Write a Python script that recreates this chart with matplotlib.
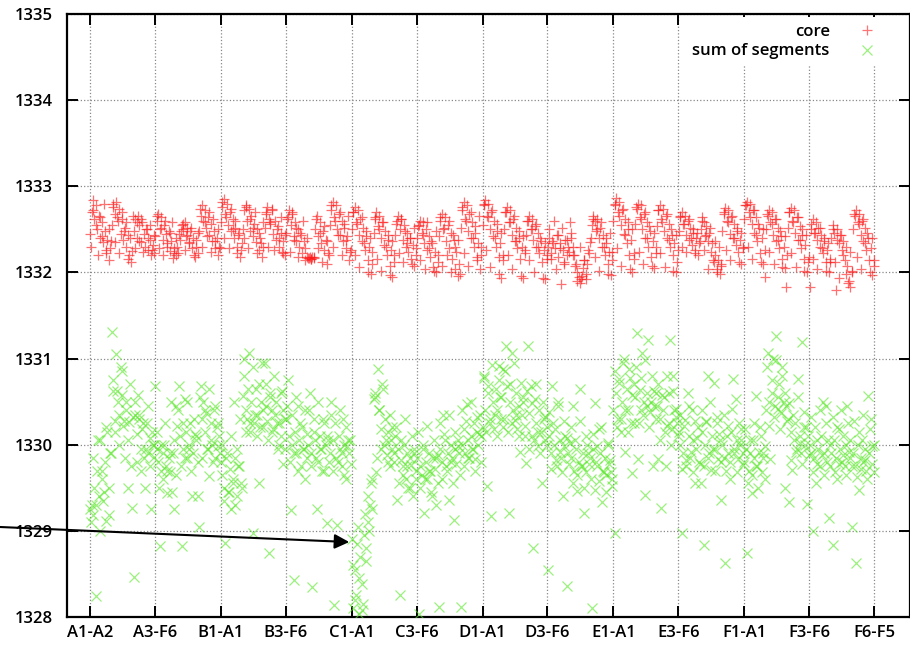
import numpy as np
import matplotlib
matplotlib.use('Agg')
import matplotlib.pyplot as plt
from matplotlib.lines import Line2D

plt.rcParams['font.family'] = ['Open Sans', 'DejaVu Sans']
plt.rcParams['font.weight'] = 600

# x tick labels (pair index where each label sits)
tick_labels = ['A1-A2', 'A3-F6', 'B1-A1', 'B3-F6', 'C1-A1', 'C3-F6', 'D1-A1',
               'D3-F6', 'E1-A1', 'E3-F6', 'F1-A1', 'F3-F6', 'F6-F5']
tick_index = [0, 104, 210, 314, 420, 524, 630, 734, 840, 944, 1050, 1154, 1259]

# core: hundredths above 1332, 15 samples per source node
core_base = 1332
core_by_node = [
    [45, 70, 84, 62, 78, 50, 66, 40, 58, 35, 48, 22, 38, 15, 28],
    [55, 80, 68, 82, 60, 74, 45, 62, 38, 52, 30, 44, 20, 12, 25],
    [48, 62, 40, 65, 55, 35, 58, 45, 30, 50, 26, 38, 20, 32, 22],
    [42, 60, 68, 50, 64, 38, 55, 45, 30, 48, 25, 36, 17, 28, 20],
    [30, 45, 38, 55, 50, 58, 42, 52, 35, 48, 28, 40, 18, 30, 22],
    [48, 66, 78, 60, 72, 52, 64, 44, 56, 36, 48, 28, 40, 20, 30],
    [58, 76, 85, 68, 80, 55, 70, 48, 62, 40, 52, 30, 44, 18, 26],
    [50, 72, 78, 60, 74, 48, 66, 42, 56, 35, 50, 26, 40, 18, 30],
    [52, 70, 76, 62, 58, 72, 45, 60, 38, 54, 30, 46, 24, 36, 20],
    [46, 64, 72, 55, 68, 42, 58, 36, 50, 30, 44, 22, 36, 15, 18],
    [17, 18, 16, 18, 17, 50, 65, 42, 58, 34, 48, 26, 38, 10, 22],
    [55, 72, 82, 64, 78, 50, 68, 44, 60, 36, 52, 28, 42, 15, 24],
    [50, 70, 76, 58, 72, 44, 62, 36, 52, 26, 42, 14, 30, -2, 10],
    [46, 64, 70, 54, 66, 40, 58, 32, 48, 20, 38, 8, 26, -5, 12],
    [44, 60, 65, 50, 62, 38, 55, 30, 46, 24, 40, 16, 32, 8, 20],
    [40, 55, 60, 46, 58, 34, 50, 26, 42, 18, 34, 6, 24, 0, 12],
    [42, 60, 68, 50, 64, 36, 55, 28, 46, 16, 38, 4, 24, -4, 10],
    [52, 72, 82, 62, 78, 48, 68, 40, 58, 30, 46, 18, 34, 4, 20],
    [55, 78, 84, 66, 80, 50, 70, 42, 60, 30, 48, 18, 34, -6, 14],
    [50, 70, 76, 58, 72, 44, 62, 36, 52, 28, 40, 16, 30, -6, 22],
    [44, 60, 66, 50, 62, 38, 54, 30, 46, 22, 36, 12, 26, -8, 16],
    [30, 40, 22, 36, 60, 28, 44, 18, 34, -13, 26, 12, 38, 20, 30],
    [58, 40, 30, 20, 10, 0, -5, -12, -8, 5, 15, -2, 10, 22, 35],
    [55, 66, 60, 48, 62, 40, 52, 30, 44, 20, 34, 10, 24, -3, 14],
    [60, 78, 86, 70, 82, 55, 72, 45, 62, 34, 50, 20, 38, 0, 16],
    [56, 74, 80, 64, 78, 50, 68, 40, 58, 30, 48, 18, 36, 5, 22],
    [54, 72, 78, 62, 74, 48, 66, 40, 56, 30, 44, 20, 34, 0, 12],
    [48, 64, 70, 56, 66, 44, 60, 38, 52, 32, 46, 26, 40, 20, 34],
    [50, 64, 58, 42, 54, 36, 46, 24, 34, 12, 20, 4, 14, -2, 8],
    [48, 68, 75, 60, 72, 45, 64, 40, 56, 32, 48, 24, 38, 10, 28],
    [62, 78, 82, 70, 80, 56, 72, 46, 64, 36, 52, 22, 40, 10, -5],
    [50, 66, 72, 58, 70, 44, 62, 36, 52, 28, 42, 16, 30, 5, -17],
    [52, 70, 75, 60, 72, 46, 64, 38, 54, 28, 44, 16, 32, 0, 12],
    [-17, 50, 62, 46, 58, 38, 52, 30, 44, 22, 36, 12, 26, 0, 16],
    [40, 55, 46, -20, 50, 34, 44, 26, 36, 14, -2, 8, -10, -17, 2],
    [50, 66, 72, 58, 68, 44, 60, 36, 52, 26, 40, 14, 28, -3, 8],
]
# second reading of the same band, 10 samples per node in between
core_fill_by_node = [
    [30, 72, 55, 20, 64, 42, 80, 26, 50, 36],
    [76, 35, 64, 22, 70, 48, 58, 16, 40, 66],
    [28, 58, 36, 62, 24, 50, 40, 55, 26, 44],
    [66, 28, 52, 20, 60, 34, 46, 58, 22, 40],
    [22, 48, 56, 26, 44, 34, 52, 20, 38, 46],
    [74, 30, 58, 42, 70, 24, 62, 36, 50, 28],
    [82, 40, 64, 28, 74, 50, 60, 22, 46, 34],
    [40, 76, 28, 62, 52, 70, 22, 46, 34, 58],
    [68, 30, 56, 74, 26, 50, 40, 64, 22, 44],
    [62, 24, 70, 38, 52, 18, 46, 60, 28, 40],
    [17, 16, 18, 62, 28, 46, 12, 54, 36, 20],
    [78, 30, 60, 44, 70, 20, 56, 38, 66, 26],
    [70, 20, 56, 6, 64, 34, 48, 0, 40, 24],
    [62, 16, 50, 2, 58, 30, 44, -3, 36, 20],
    [56, 22, 62, 12, 48, 34, 40, 10, 52, 28],
    [54, 14, 44, 4, 58, 28, 36, 2, 48, 20],
    [64, 8, 52, 20, 60, 0, 44, 30, 38, -2],
    [76, 22, 60, 8, 70, 40, 54, 14, 66, 30],
    [80, 26, 64, 6, 72, 40, 56, -2, 46, 20],
    [70, 20, 58, 4, 66, 36, 48, -4, 42, 26],
    [60, 14, 50, 0, 56, 30, 40, -6, 34, 20],
    [50, 16, 34, 4, 44, 28, 52, 10, 38, 24],
    [46, 20, 8, -10, 30, -4, 14, -8, 26, 40],
    [62, 18, 50, 2, 58, 30, 40, -2, 46, 24],
    [80, 28, 66, 8, 74, 44, 58, 4, 50, 22],
    [76, 24, 62, 10, 70, 40, 54, 8, 46, 30],
    [72, 22, 58, 6, 68, 38, 50, 2, 44, 26],
    [66, 30, 56, 24, 62, 40, 50, 22, 46, 36],
    [60, 26, 44, 4, 52, 14, 36, 0, 30, 10],
    [70, 26, 58, 14, 66, 40, 52, 12, 46, 30],
    [78, 30, 64, 16, 72, 44, 56, 12, 50, 26],
    [68, 24, 56, 10, 62, 38, 48, 6, 42, 20],
    [70, 22, 58, 6, 64, 38, 50, 2, 44, 18],
    [56, 16, 46, 4, 52, 28, 40, 2, 34, 12],
    [50, 12, 38, -6, 44, 20, 30, -12, 24, 0],
    [68, 18, 56, 4, 62, 34, 46, 0, 40, 14],
]

# sum of segments: hundredths above 1328, same sampling
seg_base = 1328
seg_by_node = [
    [125, 130, 118, 150, 24, 170, 140, 205, 160, 135, 180, 112, 215, 150, 190],
    [331, 262, 228, 305, 250, 235, 290, 258, 222, 185, 240, 150, 226, 175, 127],
    [47, 235, 212, 258, 230, 195, 218, 185, 150, 225, 190, 208, 125, 200, 186],
    [268, 195, 180, 82, 170, 190, 200, 175, 144, 185, 168, 250, 190, 125, 245],
    [222, 268, 210, 82, 195, 253, 215, 185, 200, 225, 140, 190, 212, 205, 140],
    [105, 268, 230, 250, 215, 237, 195, 164, 225, 200, 240, 185, 220, 198, 210],
    [180, 165, 150, 86, 190, 145, 172, 125, 160, 250, 185, 140, 175, 230, 155],
    [256, 300, 240, 230, 307, 215, 250, 98, 225, 265, 235, 156, 220, 295, 240],
    [295, 245, 228, 74, 260, 240, 218, 235, 250, 195, 225, 210, 262, 178, 230],
    [230, 275, 210, 124, 200, 43, 215, 190, 245, 205, 175, 220, 195, 160, 212],
    [200, 260, 190, 35, 215, 205, 125, 180, 210, 195, 230, 170, 200, 109, 205],
    [190, 250, 205, 14, 185, 107, 210, 195, 175, 230, 200, 160, 198, 190, 205],
    [90, 10, 55, 25, 105, 3, 70, 38, 15, 120, 80, 140, 100, 155, 125],
    [253, 260, 168, 288, 240, 218, 270, 200, 230, 188, 215, 175, 205, 195, 180],
    [210, 136, 195, 26, 182, 175, 200, 160, 190, 150, 185, 176, 140, 195, 170],
    [185, 3, 175, 165, 195, 121, 180, 160, 190, 170, 140, 185, 172, 130, 188],
    [12, 195, 180, 235, 205, 175, 190, 136, 200, 185, 113, 195, 178, 205, 190],
    [12, 200, 218, 190, 247, 205, 185, 210, 195, 225, 183, 215, 200, 235, 210],
    [220, 278, 240, 152, 260, 230, 117, 250, 218, 265, 240, 291, 255, 230, 288],
    [230, 315, 268, 121, 250, 307, 240, 229, 260, 218, 245, 191, 235, 255, 210],
    [179, 315, 237, 268, 210, 80, 253, 225, 198, 240, 215, 156, 230, 205, 220],
    [55, 210, 190, 268, 200, 218, 175, 250, 205, 185, 140, 198, 210, 36, 190],
    [202, 185, 245, 170, 195, 146, 180, 265, 175, 190, 121, 168, 200, 178, 185],
    [10, 195, 249, 180, 175, 218, 190, 134, 170, 185, 165, 200, 178, 168, 160],
    [240, 98, 260, 230, 276, 215, 250, 299, 191, 265, 240, 288, 225, 167, 270],
    [255, 330, 183, 264, 240, 307, 250, 142, 260, 322, 238, 250, 175, 245, 260],
    [245, 183, 230, 127, 240, 255, 175, 222, 260, 322, 218, 280, 240, 232, 225],
    [215, 200, 98, 190, 229, 175, 260, 210, 185, 240, 205, 156, 195, 220, 180],
    [156, 215, 84, 200, 226, 280, 190, 171, 210, 272, 195, 225, 183, 205, 136],
    [200, 185, 63, 210, 190, 160, 215, 276, 195, 253, 205, 183, 200, 218, 190],
    [180, 195, 74, 170, 190, 144, 205, 185, 257, 175, 192, 220, 168, 185, 198],
    [240, 307, 250, 183, 260, 299, 245, 326, 255, 270, 237, 290, 250, 150, 245],
    [230, 134, 215, 171, 205, 225, 195, 276, 210, 190, 319, 220, 200, 131, 210],
    [200, 190, 100, 185, 156, 205, 195, 175, 210, 250, 190, 245, 180, 115, 200],
    [190, 84, 205, 185, 160, 218, 195, 180, 210, 175, 200, 245, 192, 185, 104],
    [190, 175, 63, 200, 148, 185, 205, 180, 195, 170, 257, 190, 230, 178, 200],
]
seg_fill_by_node = [
    [110, 185, 130, 205, 100, 170, 145, 220, 118, 190],
    [275, 215, 262, 200, 285, 228, 250, 205, 270, 232],
    [250, 180, 235, 170, 225, 195, 245, 175, 215, 200],
    [215, 150, 200, 160, 225, 170, 190, 145, 205, 165],
    [240, 175, 225, 185, 250, 195, 170, 230, 210, 180],
    [255, 185, 240, 195, 265, 205, 180, 245, 225, 190],
    [200, 135, 185, 145, 210, 155, 130, 195, 175, 150],
    [280, 215, 265, 225, 290, 235, 210, 270, 250, 220],
    [270, 205, 255, 215, 280, 225, 200, 260, 240, 195],
    [245, 180, 235, 190, 255, 170, 225, 195, 240, 185],
    [240, 175, 230, 185, 250, 195, 170, 225, 210, 180],
    [235, 170, 225, 180, 240, 190, 165, 220, 205, 178],
    [60, 20, 85, 45, 8, 95, 65, 110, 130, 160],
    [255, 185, 240, 195, 265, 205, 180, 235, 220, 190],
    [220, 155, 205, 165, 230, 175, 150, 210, 190, 160],
    [215, 150, 200, 160, 222, 170, 145, 205, 185, 155],
    [225, 160, 212, 170, 235, 180, 155, 215, 198, 165],
    [240, 175, 228, 185, 250, 195, 170, 232, 212, 180],
    [280, 215, 268, 225, 292, 235, 210, 275, 255, 220],
    [285, 215, 270, 225, 295, 235, 210, 272, 250, 222],
    [262, 195, 248, 205, 270, 215, 190, 250, 232, 200],
    [238, 172, 225, 182, 245, 192, 168, 228, 208, 178],
    [220, 155, 205, 165, 228, 175, 150, 210, 190, 160],
    [212, 148, 198, 158, 220, 168, 145, 202, 182, 152],
    [285, 220, 272, 230, 295, 240, 215, 278, 258, 225],
    [290, 225, 278, 235, 298, 245, 220, 280, 262, 230],
    [270, 205, 258, 215, 280, 225, 200, 262, 242, 210],
    [235, 172, 222, 182, 245, 192, 168, 228, 208, 178],
    [240, 175, 228, 185, 250, 195, 170, 232, 212, 180],
    [235, 170, 222, 180, 242, 190, 168, 225, 205, 176],
    [218, 155, 205, 165, 225, 175, 150, 210, 190, 160],
    [290, 222, 275, 232, 298, 242, 218, 280, 260, 228],
    [248, 182, 235, 192, 255, 202, 178, 238, 220, 188],
    [232, 168, 220, 178, 240, 188, 165, 225, 205, 175],
    [232, 168, 220, 178, 240, 188, 165, 225, 205, 175],
    [228, 162, 215, 172, 235, 182, 160, 218, 198, 168],
]

pairs_per_node = 35
core = core_base + np.array(core_by_node, dtype=float).ravel() / 100
seg = seg_base + np.array(seg_by_node, dtype=float).ravel() / 100
pair = np.arange(core.size) * pairs_per_node / 15
core_fill = core_base + np.array(core_fill_by_node, dtype=float).ravel() / 100
seg_fill = seg_base + np.array(seg_fill_by_node, dtype=float).ravel() / 100
pair_fill = (np.arange(core_fill.size) + 0.5) * pairs_per_node / 10

fig = plt.figure(figsize=(9.1, 6.45), dpi=100)
ax = fig.add_axes([67 / 910, 1 - 617 / 645, 843 / 910, 603 / 645])

red = '#ff1a1a'
green = '#5ae62a'
ax.plot(np.r_[pair, pair_fill], np.r_[core, core_fill], '+', color=red,
        ms=7.8, mew=0.9, alpha=0.62, zorder=3)
ax.plot(np.r_[pair, pair_fill], np.r_[seg, seg_fill], 'x', color=green,
        ms=6.5, mew=0.9, alpha=0.6, zorder=3)

ax.set_xlim(-37, 1316)
ax.set_ylim(1328, 1335)
ax.set_xticks(tick_index)
ax.set_xticklabels(tick_labels)
ax.set_yticks(np.arange(1328, 1336))
ax.grid(True, ls=':', color='#888888', lw=0.9, zorder=0)
ax.tick_params(direction='in', length=8, width=1.4, top=True, right=True,
               labelsize=12, pad=6)
ax.tick_params(axis='y', pad=10)
for s in ax.spines.values():
    s.set_linewidth(1.6)

handles = [Line2D([], [], ls='none', marker='+', color=red, ms=7.5, mew=0.9, alpha=0.6),
           Line2D([], [], ls='none', marker='x', color=green, ms=6.5, mew=0.9, alpha=0.6)]
leg = ax.legend(handles, ['core', 'sum of segments'], loc='upper right',
                bbox_to_anchor=(0.976, 1.0), markerfirst=False, fontsize=12,
                frameon=True, facecolor='white', edgecolor='none', framealpha=1,
                handlelength=1.5, handletextpad=1.5, labelspacing=0.2,
                borderpad=0.4, borderaxespad=0.2, fancybox=False)
for t in leg.get_texts():
    t.set_ha('right')
leg.set_zorder(5)

ax.annotate('', xy=(416, 1328.87), xycoords='data',
            xytext=(0, 1 - 527 / 645), textcoords='figure fraction',
            arrowprops=dict(arrowstyle='-|>', color='black', lw=1.5,
                            mutation_scale=22, shrinkA=0, shrinkB=0),
            annotation_clip=False, zorder=6)

fig.savefig('out.png', dpi=100)
